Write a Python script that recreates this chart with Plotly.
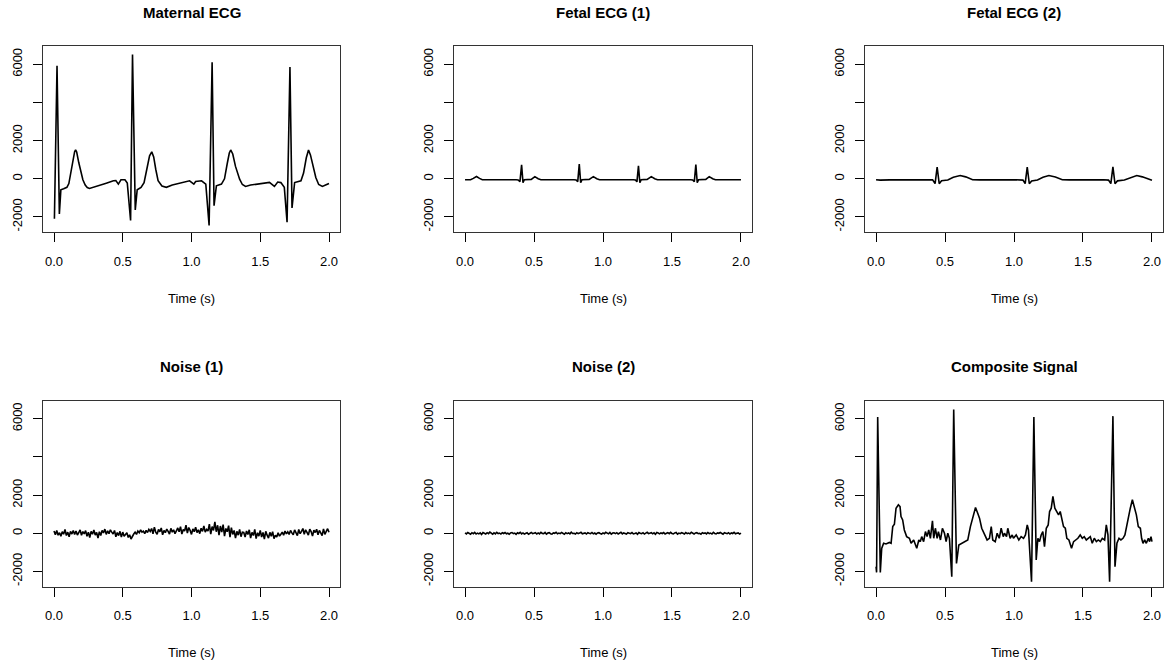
import plotly.graph_objects as go

# ---------------- data ----------------
maternal_t = [0.003, 0.022, 0.039, 0.050, 0.070, 0.094, 0.108, 0.118, 0.135, 0.150, 0.157, 0.165, 0.180, 0.195,
              0.210, 0.227, 0.242, 0.258, 0.300, 0.335, 0.380, 0.432, 0.450, 0.468, 0.487, 0.516, 0.533, 0.557,
              0.571, 0.591, 0.605, 0.633, 0.655, 0.675, 0.695, 0.711, 0.725, 0.740, 0.757, 0.785, 0.817, 0.860,
              0.914, 0.986, 1.017, 1.030, 1.073, 1.104, 1.128, 1.150, 1.164, 1.181, 1.218, 1.240, 1.260, 1.275,
              1.285, 1.300, 1.320, 1.350, 1.370, 1.393, 1.430, 1.471, 1.520, 1.567, 1.603, 1.627, 1.650, 1.675,
              1.695, 1.716, 1.731, 1.750, 1.796, 1.815, 1.835, 1.851, 1.865, 1.885, 1.904, 1.925, 1.952, 1.975, 2.0]
maternal_v = [-2100, 5930, -1840, -575, -520, -450, -250, 160, 900, 1420, 1510, 1400, 850, 330,
              -50, -330, -460, -505, -420, -330, -230, -105, -90, -280, -52, -52, -225, -2190,
              6510, -1635, -575, -450, -200, 500, 1200, 1410, 1150, 500, -105, -380, -450, -330,
              -225, -105, -280, -140, -105, -280, -2450, 6110, -1410, -365, -280, 0, 800, 1350,
              1510, 1300, 650, -20, -300, -400, -330, -280, -230, -190, -400, -170, -200, -450,
              -2280, 5860, -1530, -200, -105, 300, 1100, 1510, 1250, 600, 70, -300, -400, -330, -250]

fetal1_t = [0.0, 0.04, 0.06, 0.083, 0.105, 0.125, 0.37, 0.385, 0.398, 0.41, 0.42, 0.43, 0.48, 0.506, 0.53, 0.55,
            0.79, 0.805, 0.817, 0.828, 0.838, 0.848, 0.90, 0.93, 0.955, 0.975,
            1.22, 1.235, 1.246, 1.257, 1.267, 1.277, 1.32, 1.35, 1.375, 1.395,
            1.635, 1.65, 1.662, 1.673, 1.683, 1.693, 1.745, 1.77, 1.795, 1.815, 2.0]
fetal1_v = [-50, -50, 20, 120, 20, -50, -50, -60, -150, 730, -200, -50, -30, 110, 0, -50,
            -50, -60, -150, 770, -200, -50, -30, 110, 0, -50,
            -50, -60, -160, 680, -200, -50, -30, 110, 0, -50,
            -50, -60, -150, 750, -200, -50, -30, 110, 0, -50, -50]

fetal2_t = [0.0, 0.03, 0.1, 0.3, 0.41, 0.428, 0.443, 0.458, 0.475, 0.52, 0.56, 0.61, 0.65, 0.70, 0.75,
            1.0, 1.065, 1.081, 1.096, 1.111, 1.128, 1.17, 1.21, 1.253, 1.30, 1.35, 1.40,
            1.65, 1.685, 1.702, 1.717, 1.732, 1.75, 1.80, 1.85, 1.89, 1.93, 1.97, 2.0]
fetal2_v = [-50, -70, -60, -50, -60, -250, 610, -260, -100, -60, 80, 170, 100, -50, -60,
            -50, -70, -250, 610, -260, -110, -60, 80, 170, 90, -50, -60,
            -50, -70, -250, 620, -260, -110, -60, 90, 170, 100, -10, -80]

noise_t = [i / 100 for i in range(201)]
noise1_v = [120, -80, 150, -100, 30, -150, 80, -50, 200, -120,
            60, -180, 100, -40, 150, -60, 120, -90, 40, 180,
            -100, 90, -30, 140, -160, 60, -220, 100, -50, 170,
            -90, 40, -250, 80, -120, 150, 20, 220, -60, 130,
            -20, 180, 60, -40, 150, -180, 40, -120, 100, -200,
            60, -150, -60, 30, -220, -80, -300, -120, -40, 60,
            -60, 120, 30, 180, 60, 110, -20, 150, 40, 200,
            100, 250, -30, 320, 60, -50, 200, 80, 280, -80,
            150, 30, 220, 100, -40, 260, 60, 180, -20, 120,
            280, 80, 350, -40, 200, 120, 420, 10, 300, 150,
            -60, 230, 80, 320, 40, 180, -20, 260, 100, 380,
            60, 200, 120, 480, -40, 350, 150, 600, 80, 420,
            -100, 380, 60, 450, -150, 250, 80, 400, -200, 300,
            -60, 150, -250, 100, -100, 200, -180, 60, 40, -200,
            120, -60, 180, -250, 50, -120, 200, -280, 30, -150,
            150, -200, 40, -300, 100, -100, -250, 50, -150, 80,
            -280, -100, -200, 30, -150, -50, 60, -100, 120, -30,
            80, -60, 150, 20, -80, 180, 40, -120, 200, -20,
            100, 250, -50, 180, 50, -100, 220, 90, -150, 160,
            40, 210, -80, 150, 20, -120, 230, -60, 100, 240,
            50]
noise2_v = [20, -30, 40, -10, -50, 30, -20, 50, -40, 10,
            -30, 20, -60, 40, 0, -40, 30, -20, 60, -10,
            -50, 20, -30, 50, -20, 10, -40, 30, -10, 40,
            -30, 0, -50, 20, 40, -20, 10, -60, 30, -10,
            50, -30, 20, -40, 10, 30, -50, 0, 40, -20,
            -10, 30, -40, 20, -30, 50, -10, -20, 40, -50,
            10, 30, -20, -40, 20, 0, 50, -30, 10, -20,
            40, -10, -50, 30, -20, 20, -30, 60, -10, 0,
            -40, 30, -20, 10, 50, -30, -10, 20, -40, 30,
            0, -20, 40, -30, 10, -50, 20, 30, -10, -40,
            20, -20, 50, -10, -30, 40, -50, 10, 20, -20,
            30, -40, 0, 50, -30, 20, -10, -40, 30, 10,
            -20, 40, -30, -10, 20, -50, 40, 0, -20, 30,
            -40, 10, 50, -20, -10, 30, -30, 20, -50, 40,
            10, -30, 20, -10, 40, -40, 0, 30, -20, 50,
            -10, -30, 20, 40, -50, 10, -20, 30, 0, -40,
            40, -20, 10, -30, 50, -10, -40, 20, 30, -20,
            0, -50, 30, -10, 20, -30, 40, -20, 10, -40,
            50, -10, -30, 20, 0, 40, -20, -50, 30, 10,
            -20, 30, -40, 20, -10, 50, -30, 0, 20, -40,
            10]

composite_t = [0.0, 0.004, 0.012, 0.031, 0.041, 0.055, 0.072, 0.097, 0.109, 0.121, 0.133, 0.145, 0.162, 0.174,
               0.181, 0.193, 0.205, 0.222, 0.242, 0.254, 0.273, 0.283, 0.295, 0.310, 0.321, 0.331, 0.345, 0.358,
               0.370, 0.382, 0.394, 0.409, 0.418, 0.430, 0.443, 0.452, 0.467, 0.481, 0.496, 0.508, 0.520, 0.532,
               0.549, 0.563, 0.583, 0.600, 0.622, 0.641, 0.665, 0.684, 0.701, 0.721, 0.737, 0.750, 0.766, 0.786,
               0.805, 0.822, 0.835, 0.846, 0.864, 0.878, 0.893, 0.907, 0.922, 0.931, 0.946, 0.955, 0.972, 0.987,
               0.996, 1.016, 1.035, 1.052, 1.069, 1.083, 1.096, 1.105, 1.127, 1.144, 1.161, 1.173, 1.185, 1.197,
               1.209, 1.221, 1.234, 1.248, 1.258, 1.270, 1.282, 1.296, 1.311, 1.323, 1.335, 1.347, 1.359, 1.372,
               1.383, 1.398, 1.408, 1.417, 1.432, 1.446, 1.463, 1.480, 1.495, 1.509, 1.524, 1.538, 1.553, 1.567,
               1.582, 1.597, 1.611, 1.626, 1.640, 1.657, 1.669, 1.681, 1.693, 1.717, 1.732, 1.746, 1.761, 1.775,
               1.790, 1.804, 1.814, 1.829, 1.843, 1.858, 1.872, 1.887, 1.901, 1.916, 1.925, 1.935, 1.947, 1.959,
               1.974, 1.983, 1.993, 2.0]
composite_v = [-1750, -2050, 6090, -2050, -790, -526, -560, -480, -526, 350, 470, 1315, 1490, 1400,
               877, 700, 175, -175, -263, -526, -350, -614, -790, -350, -438, -175, -438, 88,
               -175, 175, -263, 650, -263, 263, -263, 88, -350, 263, 0, -438, 0, -263,
               -2280, 6490, -1580, -614, -526, -438, -350, 350, 877, 1350, 1052, 790, 263, -88,
               -350, -263, 350, -350, -438, 0, -263, 263, -175, 0, -175, 263, -263, -88,
               -263, -88, -350, -175, -263, -88, 438, 175, -2540, 6090, -1400, -263, -438, -88,
               88, -700, 263, 438, 1140, 1315, 1930, 1315, 1140, 964, 1140, 700, 350, 263,
               -263, -350, -614, -790, -438, -350, -263, -88, -263, -175, -350, -263, -175, -526,
               -263, -438, -350, -438, -263, -350, 438, -88, -2540, 6140, -1750, -526, -263, -350,
               -263, -88, 263, 964, 1315, 1760, 1400, 964, 350, 263, -263, -526, -350, -526,
               -263, -438, -175, -438]

titles = ["Maternal ECG", "Fetal ECG (1)", "Fetal ECG (2)", "Noise (1)", "Noise (2)", "Composite Signal"]
series = [(maternal_t, maternal_v), (fetal1_t, fetal1_v), (fetal2_t, fetal2_v),
          (noise_t, noise1_v), (noise_t, noise2_v), (composite_t, composite_v)]
x_ticks = [0, 0.5, 1.0, 1.5, 2.0]
x_tick_text = ["0.0", "0.5", "1.0", "1.5", "2.0"]
y_ticks = [-2000, 0, 2000, 4000, 6000]
y_tick_text = ["-2000", "0", "2000", "", "6000"]
x_label = "Time (s)"

# ---------------- layout ----------------
W, H = 1167, 667
col_px = [(43, 340), (454, 752), (865, 1163)]
row_px = [(46, 232), (400.5, 586.5)]
FONT = "Liberation Sans, Arial, Helvetica, sans-serif"

fig = go.Figure()
layout = dict(width=W, height=H, margin=dict(l=0, r=0, t=0, b=0),
              paper_bgcolor="white", plot_bgcolor="white", showlegend=False,
              font=dict(family=FONT, size=13, color="black"))
annotations = []
for i, (title, (tx, vy)) in enumerate(zip(titles, series)):
    r, c = divmod(i, 3)
    k = "" if i == 0 else str(i + 1)
    x0, x1 = col_px[c]
    y0, y1 = row_px[r]
    fig.add_trace(go.Scatter(x=tx, y=vy, mode="lines", line=dict(color="black", width=1.6),
                             xaxis="x" + k, yaxis="y" + k, hoverinfo="skip"))
    layout["xaxis" + k] = dict(domain=[x0 / W, x1 / W], anchor="y" + k, range=[-0.08, 2.08],
                               tickvals=x_ticks, ticktext=x_tick_text, ticks="outside", ticklen=9,
                               tickwidth=1, tickcolor="black", showline=True, mirror=True,
                               linecolor="#333", linewidth=1, showgrid=False, zeroline=False,
                               ticklabelstandoff=8, tickfont=dict(size=13))
    layout["yaxis" + k] = dict(domain=[1 - y1 / H, 1 - y0 / H], anchor="x" + k, range=[-2790, 6960],
                               tickvals=y_ticks, ticktext=y_tick_text, ticks="outside", ticklen=9,
                               tickwidth=1, tickcolor="black", showline=True, mirror=True,
                               linecolor="#333", linewidth=1, showgrid=False, zeroline=False,
                               tickangle=-90, ticklabelstandoff=6, tickfont=dict(size=13))
    annotations.append(dict(text="<b>" + title + "</b>", x=(x0 + x1) / 2 / W, y=1 - (y0 - 34) / H,
                            xref="paper", yref="paper", showarrow=False, xanchor="center", yanchor="middle",
                            font=dict(size=15, family=FONT, color="black")))
    annotations.append(dict(text=x_label, x=(x0 + x1) / 2 / W, y=1 - (y1 + 66) / H,
                            xref="paper", yref="paper", showarrow=False, xanchor="center", yanchor="middle",
                            font=dict(size=13, family=FONT, color="black")))
layout["annotations"] = annotations
fig.update_layout(**layout)
fig.write_html("out.html", config={"displayModeBar": False, "staticPlot": True},
               post_script="document.body.style.margin='0px';document.body.style.overflow='hidden';")
